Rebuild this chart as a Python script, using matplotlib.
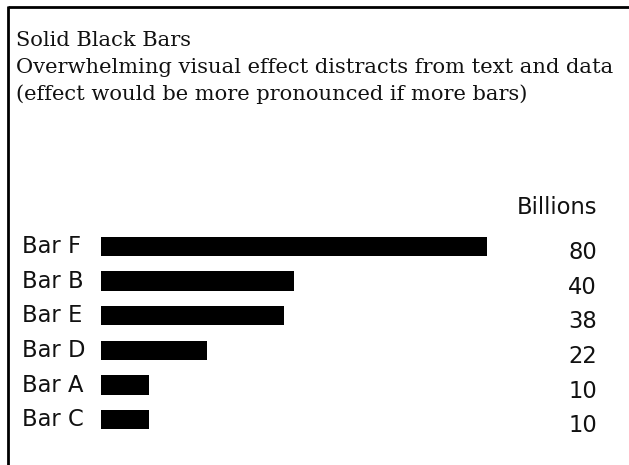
import matplotlib
matplotlib.use("Agg")
import matplotlib.pyplot as plt
from matplotlib.transforms import blended_transform_factory
from matplotlib.lines import Line2D

categories = ["Bar F", "Bar B", "Bar E", "Bar D", "Bar A", "Bar C"]
values = [80, 40, 38, 22, 10, 10]
value_labels = ["80", "40", "38", "22", "10", "10"]
title_lines = [
    "Solid Black Bars",
    "Overwhelming visual effect distracts from text and data",
    "(effect would be more pronounced if more bars)",
]
unit_label = "Billions"

W, H = 629, 465
fig = plt.figure(figsize=(W / 100, H / 100), dpi=100)
fig.patch.set_facecolor("white")

def fx(px):
    return px / W

def fy(py):
    return 1 - py / H

# frame lines (top and left)
fig.add_artist(Line2D([fx(8), 1.0], [fy(7.5), fy(7.5)], color="black", lw=2.0,
                      transform=fig.transFigure, solid_capstyle="butt"))
fig.add_artist(Line2D([fx(8), fx(8)], [fy(6.5), 0.0], color="black", lw=2.0,
                      transform=fig.transFigure, solid_capstyle="butt"))

# title lines
for i, line in enumerate(title_lines):
    fig.text(fx(16), fy(46 + 27 * i), line, fontsize=15.1, family="DejaVu Serif",
             ha="left", va="baseline", color="#111111")

# bar axes: x 0..80 maps to pixels 101..487 ; rows span 229..437
ax = fig.add_axes([fx(101), fy(437), (487 - 101) / W, (437 - 229) / H])
ypos = list(range(len(categories)))
ax.barh(ypos, values, height=0.56, color="black", edgecolor="none")
ax.set_xlim(0, 80)
ax.set_ylim(len(categories) - 0.5, -0.5)
ax.axis("off")

sans = "DejaVu Sans"
fs = 16.3
tr_left = blended_transform_factory(fig.transFigure, ax.transData)
for y, cat in zip(ypos, categories):
    ax.annotate(cat, xy=(fx(22), y), xycoords=tr_left, xytext=(0, 0),
                textcoords="offset points", ha="left", va="center",
                fontsize=fs, family=sans, color="#111111")
for y, lab in zip(ypos, value_labels):
    ax.annotate(lab, xy=(fx(597), y), xycoords=tr_left, xytext=(0, -4.5),
                textcoords="offset points", ha="right", va="center",
                fontsize=fs, family=sans, color="#111111")

fig.text(fx(597), fy(207), unit_label, ha="right", va="center",
         fontsize=fs, family=sans, color="#111111")

fig.savefig("out.png", dpi=100, facecolor="white")
